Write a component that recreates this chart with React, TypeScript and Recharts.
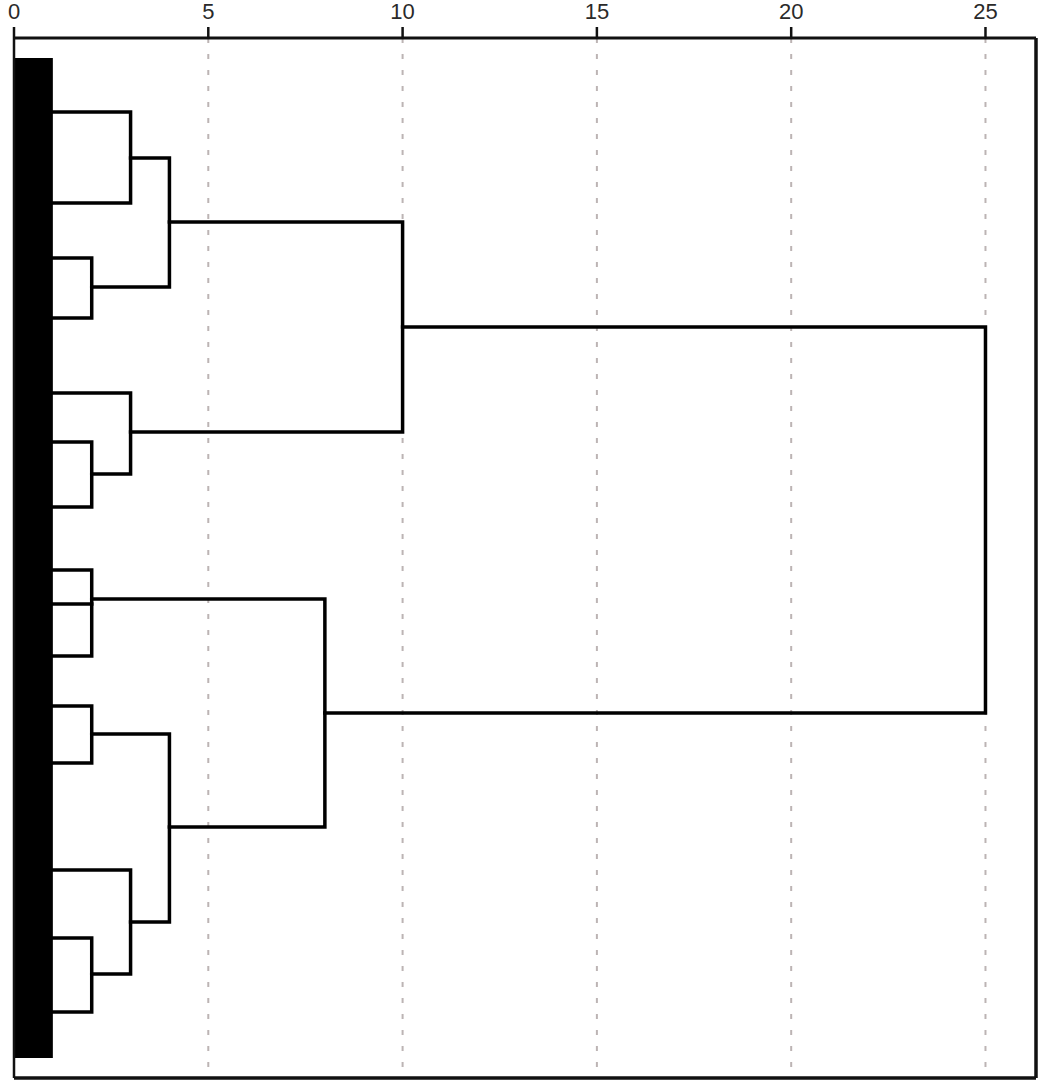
import { CartesianGrid, ComposedChart, Line, ReferenceArea, ReferenceLine, XAxis, YAxis } from 'recharts';

// rescaled distance axis (top)
const distanceTicks = [0, 5, 10, 15, 20, 25];
const distanceMax = 26.3;

// vertical position of rows, 0 = top of frame, 104 = bottom
const rowMax = 104;

// dense block of individual cases drawn as a solid bar
const caseBlock = { x1: 0, x2: 1, y1: 2, y2: 102 };

// visible leaf clusters: row position, distance where they leave the block
const leafRows = [7.4, 16.5, 22.0, 28.0, 35.5, 40.4, 46.9, 53.2, 56.6, 61.8, 66.8, 72.5, 83.2, 90.0, 97.4];
const leafHeight = 1;

// merges: children (node index; leaves are 0..14, merges follow), join distance, row of outgoing branch
const mergeChildren = [
  [0, 1],
  [2, 3],
  [15, 16],
  [5, 6],
  [4, 18],
  [17, 19],
  [7, 8, 9],
  [10, 11],
  [13, 14],
  [12, 23],
  [22, 24],
  [21, 25],
  [20, 26],
];
const mergeHeights = [3, 2, 4, 2, 3, 10, 2, 2, 2, 3, 4, 8, 25];
const mergeRows = [12.0, 24.9, 18.4, 43.6, 39.4, 28.9, 56.1, 69.6, 93.6, 88.4, 78.9, 67.5, 48.2];

type Pt = { x: number; y: number };

const nodeHeight = (i: number) => (i < leafRows.length ? leafHeight : mergeHeights[i - leafRows.length]);
const nodeRow = (i: number) => (i < leafRows.length ? leafRows[i] : mergeRows[i - leafRows.length]);

const branches: Pt[][] = [];
mergeChildren.forEach((kids, m) => {
  const h = mergeHeights[m];
  const first = kids[0];
  const last = kids[kids.length - 1];
  branches.push([
    { x: nodeHeight(first), y: nodeRow(first) },
    { x: h, y: nodeRow(first) },
    { x: h, y: nodeRow(last) },
    { x: nodeHeight(last), y: nodeRow(last) },
  ]);
  kids.slice(1, -1).forEach((k) => {
    branches.push([
      { x: nodeHeight(k), y: nodeRow(k) },
      { x: h, y: nodeRow(k) },
    ]);
  });
});

export default function App() {
  return (
    <div style={{ position: 'fixed', left: 0, top: 0, background: '#fff', width: 1040, height: 1084, overflow: 'hidden' }}>
      <ComposedChart width={1040} height={1084} margin={{ top: 8, right: 4, left: 14, bottom: 6 }}>
        <CartesianGrid horizontal={false} stroke="#bcb4b4" strokeWidth={2} strokeDasharray="5 11" />
        <XAxis
          type="number"
          dataKey="x"
          orientation="top"
          domain={[0, distanceMax]}
          ticks={distanceTicks}
          allowDataOverflow
          height={30}
          tickSize={11}
          tickMargin={8}
          axisLine={{ stroke: '#111', strokeWidth: 3 }}
          tickLine={{ stroke: '#111', strokeWidth: 2.5 }}
          tick={{ fontSize: 22, fill: '#2a2a2a', fontFamily: 'Liberation Sans, Arial, sans-serif' }}
        />
        <YAxis type="number" dataKey="y" domain={[0, rowMax]} reversed hide width={0} allowDataOverflow />
        <ReferenceArea
          x1={caseBlock.x1}
          x2={caseBlock.x2}
          y1={caseBlock.y1}
          y2={caseBlock.y2}
          fill="#000"
          fillOpacity={1}
          stroke="none"
        />
        {branches.map((pts, i) => (
          <Line
            key={i}
            data={pts}
            dataKey="y"
            type="linear"
            stroke="#000"
            strokeWidth={3.5}
            strokeLinecap="square"
            strokeLinejoin="miter"
            dot={false}
            activeDot={false}
            isAnimationActive={false}
          />
        ))}
        <ReferenceLine x={0} stroke="#111" strokeWidth={2.5} ifOverflow="visible" />
        <ReferenceLine x={distanceMax} stroke="#111" strokeWidth={3.5} ifOverflow="visible" />
        <ReferenceLine y={rowMax} stroke="#111" strokeWidth={3.5} ifOverflow="visible" />
      </ComposedChart>
    </div>
  );
}
